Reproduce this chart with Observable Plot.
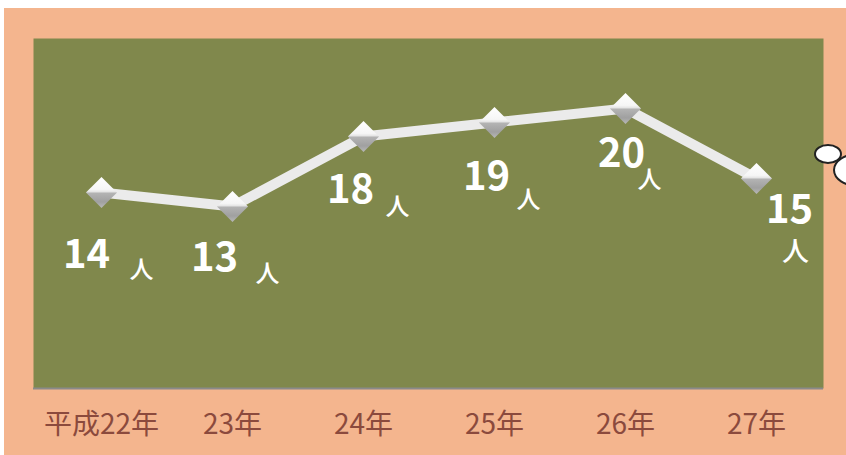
<!DOCTYPE html>
<html>
<head>
<meta charset="utf-8">
<script src="https://cdn.jsdelivr.net/npm/d3@7"></script>
<script src="https://cdn.jsdelivr.net/npm/@observablehq/plot@0.6"></script>
<style>
  html, body { margin: 0; padding: 0; background: #ffffff; }
  #chart { position: absolute; left: 4px; top: 8px; }
</style>
</head>
<body>
<div id="chart"></div>
<script>
// Data
const years = ["平成22年", "23年", "24年", "25年", "26年", "27年"];
const counts = [14, 13, 18, 19, 20, 15];
const unit = "人";

// Label placement (pixel offsets from each point, styling only)
const numOffsets = [[-15, 75], [-18, 64], [-13, 66], [-8, 67], [-4, 58], [33, 44]];
const unitOffsets = [[40, 85], [35, 75], [34, 78], [34, 85], [24, 79], [39, 82]];

const data = years.map((y, i) => ({year: y, count: counts[i], i}));

const marks = [
  Plot.frame({fill: "#80884C", stroke: null}),
  Plot.ruleY([0], {stroke: "#8A8A8A", strokeWidth: 2.2}),
  Plot.line(data, {x: "year", y: "count", stroke: "#EBEBEB", strokeWidth: 10, strokeLinejoin: "round"}),
  Plot.dot(data, {x: "year", y: "count", symbol: "diamond2", r: 14, fill: "url(#diamondGrad)", stroke: "none"})
];
data.forEach((d, i) => {
  marks.push(Plot.text([d], {x: "year", y: "count", text: d => String(d.count),
    dx: numOffsets[i][0], dy: numOffsets[i][1], lineAnchor: "bottom", textAnchor: "middle",
    fill: "#ffffff", fontSize: 40, fontWeight: "bold"}));
  marks.push(Plot.text([d], {x: "year", y: "count", text: () => unit,
    dx: unitOffsets[i][0], dy: unitOffsets[i][1], lineAnchor: "bottom", textAnchor: "middle",
    fill: "#ffffff", fontSize: i === 5 ? 27 : 24, fontWeight: 500}));
});

const svg = Plot.plot({
  width: 842,
  height: 447,
  marginLeft: 29,
  marginRight: 23,
  marginTop: 30,
  marginBottom: 67,
  style: {background: "#F4B58E", fontFamily: "'Noto Sans CJK JP', 'Noto Sans', sans-serif", fontSize: "28px", color: "#8B4A3D", overflow: "hidden"},
  x: {type: "point", domain: years, padding: 0.5, tickSize: 0, tickPadding: 26, label: null},
  y: {domain: [0, 25], axis: null},
  marks
});

const s = d3.select(svg);
const defs = s.insert("defs", ":first-child");
const g = defs.append("linearGradient").attr("id", "diamondGrad").attr("x1", 0).attr("y1", 0).attr("x2", 0).attr("y2", 1);
[["0%", "#ffffff"], ["40%", "#f6f6f6"], ["49%", "#e2e2e2"], ["51%", "#b4b4b4"], ["80%", "#a0a0a0"], ["100%", "#b8b8b8"]]
  .forEach(([o, c]) => g.append("stop").attr("offset", o).attr("stop-color", c));

// decorative callout bubbles at right edge
const deco = s.append("g").attr("stroke", "#222").attr("stroke-width", 2).attr("fill", "#ffffff");
deco.append("ellipse").attr("cx", 854).attr("cy", 162).attr("rx", 24).attr("ry", 16);
deco.append("ellipse").attr("cx", 824).attr("cy", 146).attr("rx", 13).attr("ry", 9);

document.getElementById("chart").appendChild(svg);
</script>
</body>
</html>
